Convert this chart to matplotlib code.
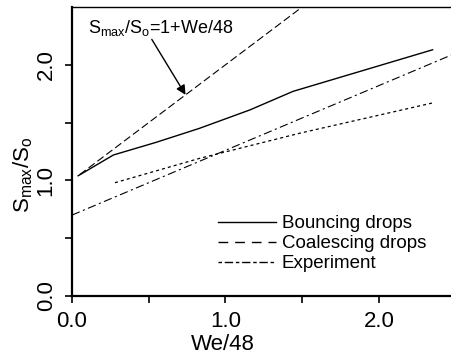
import matplotlib
matplotlib.use('Agg')
import matplotlib.pyplot as plt
from matplotlib.lines import Line2D

plt.rcParams['font.family'] = ['Liberation Sans', 'DejaVu Sans']
plt.rcParams['mathtext.fontset'] = 'custom'
plt.rcParams['mathtext.rm'] = 'Liberation Sans'
plt.rcParams['mathtext.it'] = 'Liberation Sans'
plt.rcParams['lines.scale_dashes'] = False

# theory line S_max/S_o = 1 + We/48
theory_x = [0.05, 1.55]
theory_y = [1.05, 2.55]

# bouncing drops
bounce_x = [0.04, 0.27, 0.55, 0.83, 1.16, 1.44, 2.35]
bounce_y = [1.04, 1.22, 1.33, 1.45, 1.61, 1.77, 2.13]

# coalescing drops
coal_x = [0.28, 0.83, 1.49, 2.35]
coal_y = [0.98, 1.19, 1.41, 1.67]

# experiment
exp_x = [0.0, 2.5]
exp_y = [0.70, 2.10]

xticks = [0.0, 1.0, 2.0]
yticks = [0.0, 1.0, 2.0]
labels = ['Bouncing drops', 'Coalescing drops', 'Experiment']

fig = plt.figure(figsize=(4.51, 3.6), dpi=100)
ax = fig.add_axes([72 / 451, 64 / 360, 379 / 451, 289 / 360])

ax.plot(theory_x, theory_y, color='black', lw=0.8, dashes=(5.5, 2.5))
ax.plot(bounce_x, bounce_y, color='black', lw=1.0)
ax.plot(coal_x, coal_y, color='black', lw=0.9, dashes=(2.2, 2.2))
ax.plot(exp_x, exp_y, color='black', lw=0.8, dashes=(6, 2.5, 1.5, 2.5))

ax.set_xlim(0, 2.47)
ax.set_ylim(0, 2.5)
ax.set_xticks(xticks)
ax.set_xticks([0.5, 1.5], minor=True)
ax.set_yticks(yticks)
ax.set_yticks([0.5, 1.5], minor=True)
ax.set_xticklabels(['%.1f' % v for v in xticks], fontsize=16)
ax.set_yticklabels(['%.1f' % v for v in yticks], fontsize=16, rotation=90, va='center')
ax.tick_params(which='both', direction='out', length=5, width=1.2, pad=6)

ax.spines['right'].set_visible(False)
ax.spines['left'].set_linewidth(1.6)
ax.spines['bottom'].set_linewidth(1.6)
ax.spines['top'].set_linewidth(1.0)

ax.set_xlabel('We/48', fontsize=16)
ax.xaxis.set_label_coords(0.398, -0.13)
ax.set_ylabel(r'S$_{\mathrm{max}}$/S$_{\mathrm{o}}$', fontsize=16)
ax.yaxis.set_label_coords(-0.097, 0.42)

ax.text(0.104, 2.277, r'S$_{\mathrm{max}}$/S$_{\mathrm{o}}$=1+We/48', fontsize=13, va='baseline')
ax.annotate('', xy=(0.74, 1.74), xytext=(0.52, 2.22),
            arrowprops=dict(arrowstyle='-|>', color='black', lw=1.0,
                            mutation_scale=14, shrinkA=0, shrinkB=0))

handles = [
    Line2D([], [], color='black', lw=1.0),
    Line2D([], [], color='black', lw=1.0, dashes=(7, 5)),
    Line2D([], [], color='black', lw=1.0, dashes=(2.5, 2, 6, 2)),
]
ax.legend(handles, labels, loc='upper left', bbox_to_anchor=(0.385, 0.28),
          frameon=False, fontsize=13.5, handlelength=3.1, handletextpad=0.3,
          labelspacing=0.15, borderpad=0, borderaxespad=0)

fig.savefig('out.png', dpi=100)
